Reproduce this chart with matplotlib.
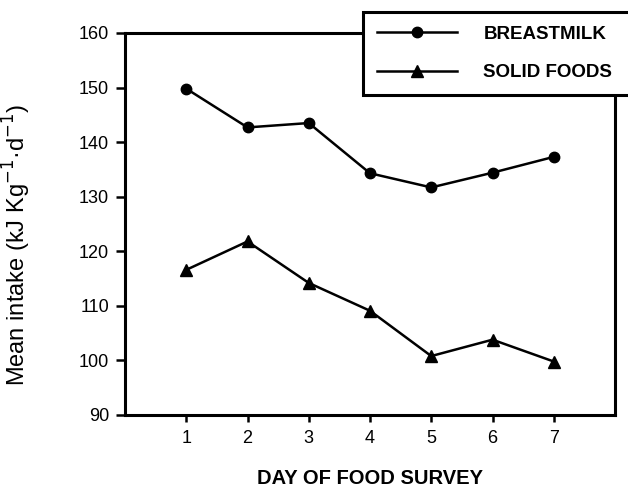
# Mean intake by day of food survey: breastmilk vs solid foods
import matplotlib.pyplot as plt

days = [1, 2, 3, 4, 5, 6, 7]
breastmilk = [149.8, 142.7, 143.5, 134.3, 131.7, 134.4, 137.3]
solid_foods = [116.6, 121.8, 114.2, 109.1, 100.8, 103.8, 99.8]
y_ticks = [90, 100, 110, 120, 130, 140, 150, 160]

plt.rcParams["font.family"] = ["Liberation Sans", "DejaVu Sans"]

fig = plt.figure(figsize=(6.28, 4.88), dpi=100)
ax = fig.add_axes([125 / 628, 1 - 415 / 488, 490 / 628, 382 / 488])

ax.plot(days, breastmilk, color="black", lw=1.8, marker="o", ms=7.5,
        label="BREASTMILK")
ax.plot(days, solid_foods, color="black", lw=1.8, marker="^", ms=8,
        label="SOLID FOODS")

ax.set_xlim(0, 8)
ax.set_ylim(90, 160)
ax.set_xticks(days)
ax.set_yticks(y_ticks)
ax.tick_params(axis="both", direction="out", width=1.8,
               labelsize=13, colors="black")
ax.tick_params(axis="x", length=5, pad=6)
ax.tick_params(axis="y", length=6.5, pad=5)

for side in ["left", "bottom", "top", "right"]:
    ax.spines[side].set_linewidth(2.2)
    ax.spines[side].set_color("black")

ax.set_ylabel("Mean intake (kJ Kg$^{-1}$·d$^{-1}$)", fontsize=17)
ax.yaxis.set_label_coords(-0.188, 0.445)
fig.text(370 / 628, 1 - 478 / 488, "DAY OF FOOD SURVEY", fontsize=14.5,
         fontweight="bold", ha="center", va="center")

leg = fig.legend(loc="upper left", mode="expand",
                 bbox_to_anchor=(363 / 628, 0, 0.5, 1 - 12 / 488),
                 borderaxespad=0, fancybox=False, framealpha=1,
                 edgecolor="black", facecolor="white",
                 prop={"weight": "bold", "size": 13.5},
                 handlelength=4.3, handletextpad=1.4, borderpad=0.72,
                 labelspacing=1.15)
leg.get_frame().set_linewidth(2.2)

fig.savefig("out.png", dpi=100)
